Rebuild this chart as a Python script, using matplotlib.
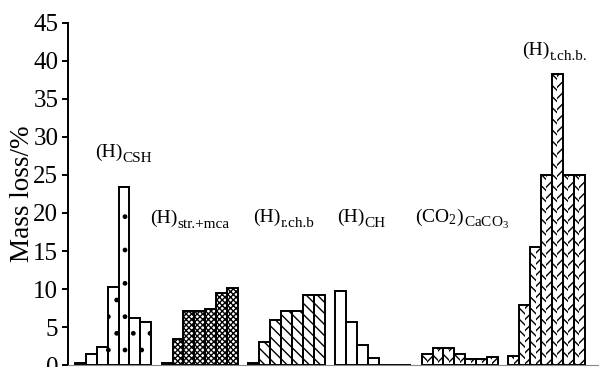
import matplotlib
matplotlib.use('Agg')
import matplotlib.pyplot as plt
import numpy as np

plt.rcParams['font.family'] = ['Liberation Serif', 'DejaVu Serif']
plt.rcParams['mathtext.fontset'] = 'custom'
plt.rcParams['mathtext.rm'] = 'Liberation Serif'
plt.rcParams['mathtext.it'] = 'Liberation Serif:italic'
plt.rcParams['hatch.linewidth'] = 1.0

# data: mass loss (%) for 7 samples in each decomposition range
csh = [0.3, 1.4, 2.4, 10.3, 23.4, 6.2, 5.7]
str_mca = [0.3, 3.4, 7.1, 7.1, 7.4, 9.5, 10.1]
r_chb = [0.2, 3.0, 5.9, 7.1, 7.1, 9.2, 9.2]
ch = [9.7, 5.6, 2.6, 0.9, 0.0, 0.0, 0.0]
caco3 = [1.5, 2.3, 2.3, 1.4, 0.8, 0.8, 1.0]
t_chb = [1.2, 7.9, 15.5, 25.0, 38.3, 25.0, 25.0]

groups = [csh, str_mca, r_chb, ch, caco3, t_chb]
main_labels = ['(H)', '(H)', '(H)', '(H)', r'(CO$_2$)', '(H)']
sub_labels = ['CSH', 'str.+mca', 'r.ch.b', 'CH', r'CaCO$_3$', 't.ch.b.']
label_pos = [(1.84, 27.4), (6.88, 18.7), (16.33, 18.8),
             (24.04, 18.8), (31.2, 18.8), (41.0, 40.8)]

fig = plt.figure(figsize=(5.99, 3.67), dpi=100)
ax = fig.add_axes([0.1135, 0.0054, 0.8865, 0.932])

period = 7.95
lw = 1.4
for g, vals in enumerate(groups):
    x = g * period + np.arange(len(vals))
    if g == 0:
        ax.bar(x, vals, width=1, align='edge', facecolor='white',
               edgecolor='k', linewidth=0, hatch='.')
    elif g == 1:
        ax.bar(x, vals, width=1, align='edge', facecolor='white',
               edgecolor='k', linewidth=0, hatch='xxxxxx')
    elif g == 2:
        ax.bar(x, vals, width=1, align='edge', facecolor='white',
               edgecolor='k', linewidth=0, hatch='\\\\\\')
    elif g >= 4:
        # herringbone look: two half bars with opposite diagonals
        ax.bar(x, vals, width=0.5, align='edge', facecolor='white',
               edgecolor='k', linewidth=0, hatch='\\\\\\')
        ax.bar(x + 0.5, vals, width=0.5, align='edge', facecolor='white',
               edgecolor='k', linewidth=0, hatch='///')
    ax.bar(x, vals, width=1, align='edge', fill=False,
           edgecolor='k', linewidth=lw)

# group labels: main text plus a lowered subscript placed after it
renderer = fig.canvas.get_renderer()
for main, sub, (tx, ty) in zip(main_labels, sub_labels, label_pos):
    t = ax.text(tx, ty, main, fontsize=14, ha='left', va='baseline')
    w = t.get_window_extent(renderer=renderer).width
    ax.annotate(sub, xy=(tx, ty), xycoords='data',
                xytext=(w * 72 / fig.dpi, -3.5), textcoords='offset points',
                fontsize=11, ha='left', va='baseline')

ax.set_xlim(-0.64, 48.07)
ax.set_ylim(0, 45)
ax.set_yticks(np.arange(0, 46, 5))
ax.tick_params(axis='y', direction='out', length=4, width=1.4,
               labelsize=18, pad=3)
ax.set_xticks([])
ax.spines['top'].set_visible(False)
ax.spines['right'].set_visible(False)
ax.spines['left'].set_linewidth(1.4)
ax.spines['bottom'].set_linewidth(0.8)
ax.spines['bottom'].set_color('#888888')
ax.set_ylabel('Mass loss/%', fontsize=19.5)
ax.yaxis.set_label_coords(-0.062, 0.50)

fig.savefig('out.png', dpi=100)
